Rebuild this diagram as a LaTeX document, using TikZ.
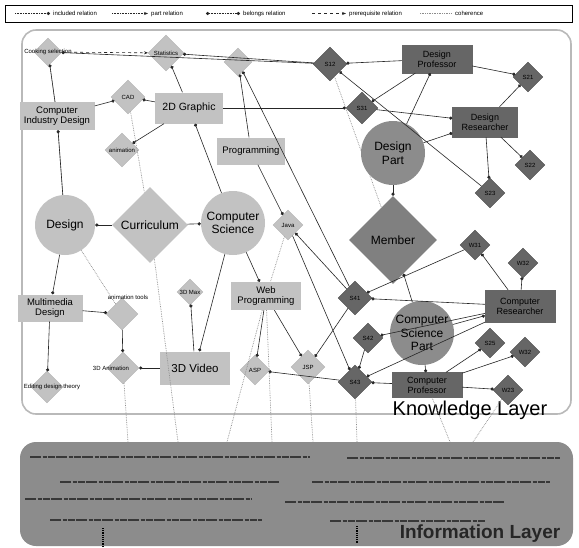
\documentclass[tikz,border=0pt]{standalone}
\usepackage{fontspec}
\setmainfont{Liberation Sans}
\usetikzlibrary{shapes.geometric,arrows.meta}
\begin{document}
\begin{tikzpicture}[x=1pt,y=-1pt,
  lfill/.style={fill=gray!48},
  dfill/.style={fill=black!60},
  ldia/.style={diamond, lfill, draw=gray!60, line width=0.3pt, inner sep=0pt, minimum width=#1, minimum height=#1},
  ddia/.style={diamond, dfill, draw=black!70, line width=0.3pt, inner sep=0pt, minimum width=#1, minimum height=#1},
  lrect/.style={rectangle, lfill, inner sep=1pt, align=center, font=\fontsize{9.5}{10.5}\selectfont, minimum width=#1},
  drect/.style={rectangle, dfill, draw=black!60, line width=0.3pt, inner sep=1pt, align=center, font=\fontsize{9}{10}\selectfont, minimum width=#1},
  sml/.style={font=\fontsize{6}{7}\selectfont, text=black, inner sep=0pt},
  big/.style={font=\fontsize{12}{13.5}\selectfont, align=center, inner sep=0pt},
  rel/.style={draw=black!85, line width=0.6pt, -{Circle[length=3.2pt]}},
  pre/.style={draw=black!85, line width=0.6pt, dashed, -{Stealth[length=4pt]}},
  coh/.style={draw=black!45, densely dotted, line width=0.7pt},
  txtline/.style={draw=black!78, line width=1.9pt, dash pattern=on 11pt off 1.5pt on 4pt off 1pt on 7pt off 1.5pt}]
\useasboundingbox (0,0) rectangle (579,547);
\fill[white] (0,0) rectangle (579,547);

% legend
\draw[line width=1pt] (5,5) rectangle (572,22);
\coordinate (la1) at (15,13.5); \coordinate (la2) at (50,13.5);
\coordinate (lb1) at (112,13.5); \coordinate (lb2) at (148,13.5);
\coordinate (lc1) at (206,13.5); \coordinate (lc2) at (240,13.5);
\coordinate (ld1c) at (312,13.5); \coordinate (ld2c) at (346,13.5);
\coordinate (le1) at (420,13.5); \coordinate (le2) at (452,13.5);
\draw[rel, densely dotted] (la1) -- (la2);
\node[sml, anchor=west] (lta) at (53,13.5) {included relation};
\draw[draw=black!85, line width=0.6pt, densely dotted, -{Stealth[length=4pt]}] (lb1) -- (lb2);
\node[sml, anchor=west] (ltb) at (151,13.5) {part relation};
\draw[draw=black!85, line width=0.6pt, densely dotted, {Circle[length=3.2pt]}-{Circle[length=3.2pt]}] (lc1) -- (lc2);
\node[sml, anchor=west] (ltc) at (243,13.5) {belongs relation};
\draw[pre] (ld1c) -- (ld2c);
\node[sml, anchor=west] (ltd) at (349,13.5) {prerequisite relation};
\draw[coh] (le1) -- (le2);
\node[sml, anchor=west] (lte) at (455,13.5) {coherence};

% layers
\draw[draw=gray!55, line width=1.6pt, rounded corners=14] (22,30) rectangle (571,414);
\fill[black!45, rounded corners=16] (20,442) rectangle (573,546);
\draw[txtline] (30,457) -- (310,457);
\draw[txtline] (347,458) -- (560,458);
\draw[txtline] (60,482) -- (280,482);
\draw[txtline] (312,482) -- (550,482);
\draw[txtline] (25,499) -- (252,499);
\draw[txtline] (285,502) -- (505,502);
\draw[txtline] (50,520) -- (262,520);
\draw[txtline] (330,521) -- (485,521);
\draw[black, densely dotted, line width=1.2pt] (103,528) -- (103,547);
\draw[black, densely dotted, line width=1.2pt] (357,526) -- (357,543);
\node[font=\bfseries\fontsize{19}{21}\selectfont, text=black!85] (infot) at (480,534) {Information Layer};

% nodes
\node[ldia=28, label={[sml]center:Cooking selection}] (cook) at (48,52) {};
\node[ldia=36, label={[sml]center:Statistics}] (stat) at (166,53) {};
\node[ldia=28] (ldd) at (238,62) {};
\node[ddia=34, label={[sml]center:S12}] (dk1) at (330,64) {};
\node[ddia=32, label={[sml]center:S31}] (dk2) at (362,108) {};
\node[lrect=75, minimum height=28] (cid) at (57,116) {Computer\\Industry Design};
\node[ldia=34, label={[sml]center:CAD}] (cad) at (128,97) {};
\node[ldia=34, label={[sml]center:animation}] (anim) at (122,150) {};
\node[lrect=68, minimum height=31, font=\fontsize{10.5}{12}\selectfont] (g2d) at (189,108) {2D Graphic};
\node[lrect=68, minimum height=27] (prog) at (251,151) {Programming};
\node[circle, fill=black!45, minimum size=64, inner sep=0pt, label={[big]center:Design\\Part}] (dpart) at (393,153) {};
\node[drect=70, minimum height=28] (dprof) at (437,59) {Design\\Professor};
\node[ddia=30, label={[sml]center:S21}] (dk3) at (528,77) {};
\node[drect=65, minimum height=30] (dres) at (485,122) {Design\\Researcher};
\node[ddia=30, label={[sml]center:S22}] (dk4) at (530,165) {};
\node[ddia=30, label={[sml]center:S23}] (dk5) at (490,193) {};
\node[diamond, fill=black!50, inner sep=0pt, minimum width=88, minimum height=88, label={[big]center:Member}] (member) at (393,240) {};
\node[circle, lfill, minimum size=60, inner sep=0pt, label={[big]center:Design}] (design) at (65,225) {};
\node[diamond, lfill, inner sep=0pt, minimum width=76, minimum height=76, label={[big]center:Curriculum}] (curr) at (150,225) {};
\node[circle, lfill, minimum size=64, inner sep=0pt, label={[big]center:Computer\\Science}] (cs) at (233,223) {};
\node[ldia=30, label={[sml]center:Java}] (java) at (288,225) {};
\node[ldia=26, label={[sml]center:3D Max}] (max3) at (190,292) {};
\node[lrect=65, minimum height=27] (mmd) at (50,308) {Multimedia\\Design};
\node[ldia=32] (atools) at (122,314) {};
\node[sml] (tatools) at (128,297) {animation tools};
\node[ldia=32, label={[sml,xshift=-12pt]center:3D Animation}] (anim3) at (123,368) {};
\node[ldia=32, label={[sml,xshift=5pt]center:Editing design theory}] (edit) at (47,387) {};
\node[lrect=70, minimum height=33, font=\fontsize{11.5}{13}\selectfont] (vid3) at (195,368) {3D Video};
\node[lrect=70, minimum height=28] (web) at (266,296) {Web\\Programming};
\node[ldia=30, label={[sml]center:ASP}] (asp) at (255,370) {};
\node[ldia=34, label={[sml]center:JSP}] (jsp) at (308,367) {};
\node[ddia=34, label={[sml]center:S41}] (dk6) at (355,298) {};
\node[ddia=30, label={[sml]center:S42}] (dk7) at (368,338) {};
\node[ddia=34, label={[sml]center:S43}] (dk8) at (355,382) {};
\node[ddia=30, label={[sml]center:W31}] (dk9) at (475,245) {};
\node[ddia=30, label={[sml]center:W32}] (dk10) at (523,263) {};
\node[drect=70, minimum height=32] (cres) at (520,306) {Computer\\Researcher};
\node[circle, fill=black!45, minimum size=64, inner sep=0pt, label={[big]center:Computer\\Science\\Part}] (cspart) at (422,333) {};
\node[ddia=30, label={[sml]center:S25}] (dk11) at (490,343) {};
\node[ddia=30, label={[sml]center:W32}] (dk12) at (525,352) {};
\node[ddia=30, label={[sml]center:W23}] (dk13) at (508,390) {};
\node[drect=70, minimum height=25] (cprof) at (427,385) {Computer\\Professor};
\node[font=\fontsize{20}{22}\selectfont] (klt) at (470,410) {Knowledge Layer};

% coherence
\coordinate (i1) at (128,442); \coordinate (i2) at (178,442);
\coordinate (i3) at (227,442); \coordinate (i4) at (272,442);
\coordinate (i5) at (313,442); \coordinate (i6) at (357,442);
\coordinate (i7) at (450,442); \coordinate (i8) at (473,442);
\draw[coh] (cook) -- (cid);
\draw[coh] (cid) -- (design);
\draw[coh] (cad) -- (curr);
\draw[coh] (design) -- (atools);
\draw[coh] (curr) -- (i2);
\draw[coh] (anim3) -- (i1);
\draw[coh] (web) -- (i3);
\draw[coh] (web) -- (i4);
\draw[coh] (jsp) -- (i5);
\draw[coh] (dk8) -- (i6);
\draw[coh] (cprof) -- (i7);
\draw[coh] (dk13) -- (i8);
\draw[coh] (dk1) -- (member);
\draw[coh] (java) -- (web);

% relations
\draw[pre] (cook) -- (stat);
\draw[rel] (dk1) -- (cook);
\draw[rel] (dk1) -- (stat);
\draw[rel] (cid) -- (cook);
\draw[rel] (design) -- (cid);
\draw[rel] (cid) -- (cad);
\draw[rel] (g2d) -- (cad);
\draw[rel] (g2d) -- (anim);
\draw[rel] (g2d) -- (stat);
\draw[rel] (cs) -- (g2d);
\draw[rel] (curr) -- (design);
\draw[rel] (curr) -- (cs);
\draw[rel] (design) -- (mmd);
\draw[rel] (mmd) -- (atools);
\draw[rel] (mmd) -- (edit);
\draw[rel] (atools) -- (anim3);
\draw[rel] (vid3) -- (anim3);
\draw[rel] (vid3) -- (max3);
\draw[rel] (cs) -- (vid3);
\draw[rel] (cs) -- (web);
\draw[rel] (prog) -- (ldd);
\draw[rel] (prog) -- (java);
\draw[rel] (dk6) -- (ldd);
\draw[rel] (dk6) -- (java);
\draw[rel] (java) -- (dk8);
\draw[rel] (web) -- (asp);
\draw[rel] (web) -- (jsp);
\draw[rel] (dk6) -- (jsp);
\draw[rel] (dk8) -- (asp);
\draw[rel] (g2d) -- (dk2);
\draw[rel] (dprof) -- (dk1);
\draw[rel] (dprof) -- (dk2);
\draw[rel] (dprof) -- (dk3);
\draw[rel] (dres) -- (dk3);
\draw[rel] (dres) -- (dk4);
\draw[rel] (dres) -- (dk5);
\draw[rel] (dk2) -- (dres);
\draw[rel] (dk5) -- (dk1);
\draw[rel] (dpart) -- (dprof);
\draw[rel] (dpart) -- (dres);
\draw[rel] (dpart) -- (member);
\draw[rel] (cspart) -- (member);
\draw[rel] (cspart) -- (cres);
\draw[rel] (cspart) -- (cprof);
\draw[rel] (cres) -- (dk9);
\draw[rel] (cres) -- (dk10);
\draw[rel] (cres) -- (dk6);
\draw[rel] (cres) -- (dk7);
\draw[rel] (cres) -- (dk8);
\draw[rel] (dk9) -- (dk6);
\draw[rel] (dk7) -- (dk8);
\draw[rel] (cprof) -- (dk11);
\draw[rel] (cprof) -- (dk12);
\draw[rel] (cprof) -- (dk13);
\draw[rel] (cprof) -- (dk8);
\end{tikzpicture}
\end{document}
